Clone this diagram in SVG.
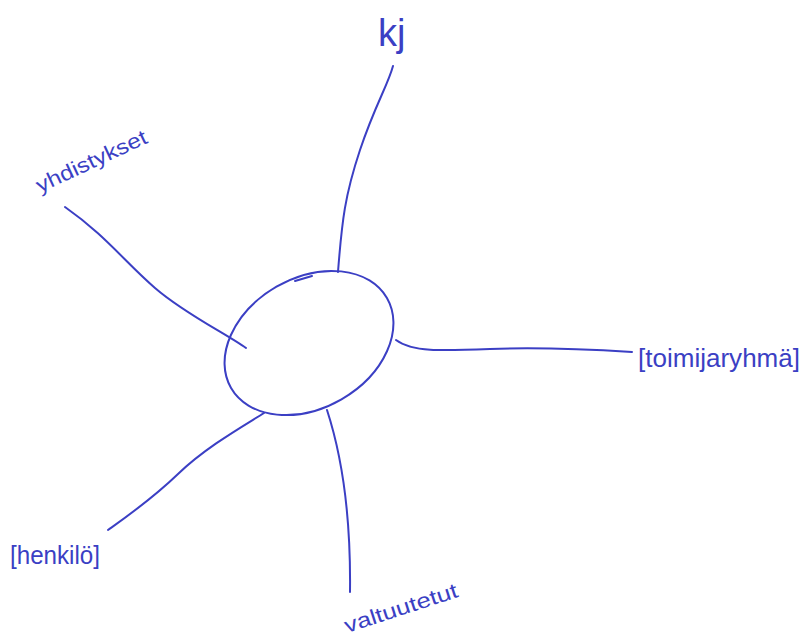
<svg xmlns="http://www.w3.org/2000/svg" width="802" height="636" viewBox="0 0 802 636">
<style>
.ln{fill:none;stroke:#3b3fc4;stroke-width:2;stroke-linecap:round;stroke-linejoin:round}
.tx{font-family:"Liberation Sans","DejaVu Sans",sans-serif;fill:#3b3fc4;font-size:21px}
</style>
<rect width="802" height="636" fill="#fff"/>
<g id="connectors">
<path class="ln" d="M338,272 C342,220 345,195 360,150 S388,85 393,66"/>
<path class="ln" d="M65,207 C105,235 125,262 155,288 S225,333 246,348"/>
<path class="ln" d="M396,340 C412,352 440,351 490,349 S600,350 632,352"/>
<path class="ln" d="M264,413 C240,428 205,448 178,474 S122,520 108,530"/>
<path class="ln" d="M327,410 C340,450 351,510 350,592"/>
</g>
<g id="center">
<ellipse class="ln" cx="309" cy="343" rx="90" ry="65" transform="rotate(-30 309 343)"/>
<path class="ln" d="M295,281 L312,276"/>
</g>
<g id="kj"><text class="tx" x="378" y="46" style="font-size:38px">kj</text></g>
<g id="yhdistykset"><text class="tx" x="40" y="193" textLength="120" lengthAdjust="spacingAndGlyphs" transform="rotate(-25 40 193)">yhdistykset</text></g>
<g id="toimijaryhma"><text class="tx" x="638" y="367" style="font-size:25px" textLength="162" lengthAdjust="spacingAndGlyphs">[toimijaryhmä]</text></g>
<g id="henkilo"><text class="tx" x="10" y="564" style="font-size:25px" textLength="90" lengthAdjust="spacingAndGlyphs">[henkilö]</text></g>
<g id="valtuutetut"><text class="tx" x="347" y="633" textLength="118" lengthAdjust="spacingAndGlyphs" transform="rotate(-18 347 633)">valtuutetut</text></g>
</svg>
